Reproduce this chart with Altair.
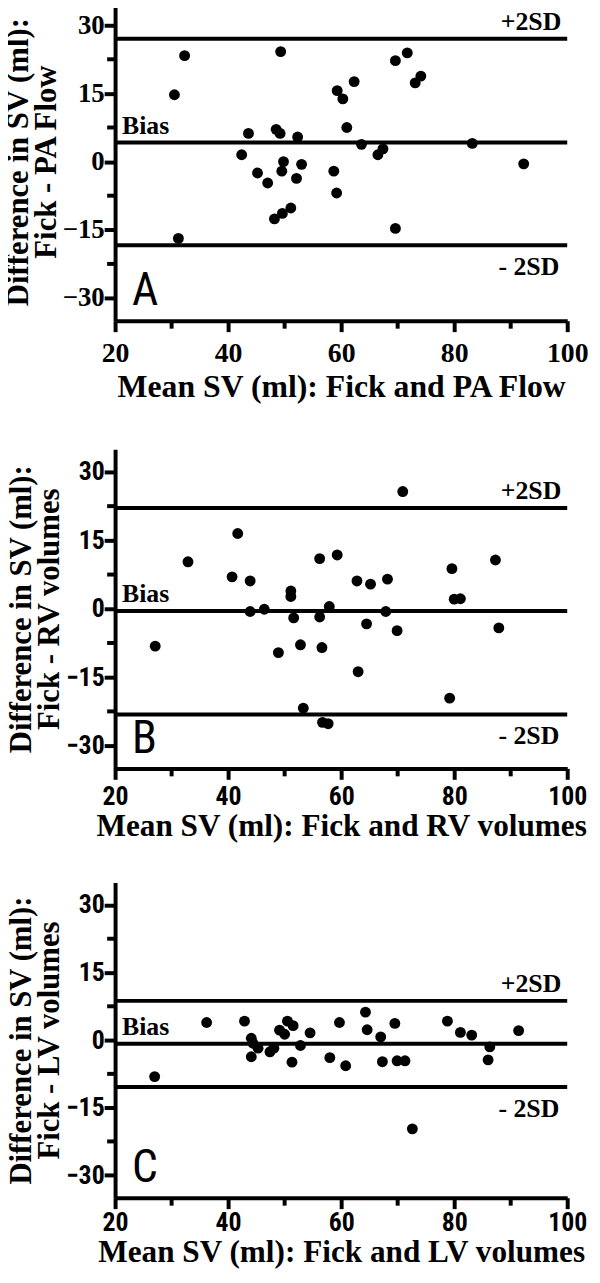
import altair as alt
import pandas as pd

# ---------------- data ----------------
# Panel A: Fick vs PA flow
a_mean = [30.5, 32.3, 31.2, 49.3, 42.4, 43.6, 45.2, 47.0, 48.5, 49.2, 49.8, 49.5,
          48.2, 49.6, 51.1, 52.1, 52.3, 53.0, 58.7, 59.2, 59.3, 60.3, 62.3, 61.0,
          63.6, 66.5, 67.4, 69.6, 71.7, 73.1, 74.1, 69.6, 83.2, 92.3]
a_diff = [14.7, 23.3, -16.9, 24.2, 1.5, 6.2, -2.5, -4.7, 7.1, 6.2, 0.0, -2.1,
          -12.6, -11.4, -10.2, -3.7, 5.4, -0.6, -2.1, -6.9, 15.6, 13.8, 17.6, 7.5,
          3.8, 1.5, 2.8, 22.2, 23.9, 17.3, 18.8, -14.7, 4.0, -0.5]
a_limits = [27.0, 4.2, -18.4]  # +2SD, bias, -2SD

# Panel B: Fick vs RV volumes
b_mean = [27.1, 32.9, 40.7, 41.7, 43.9, 43.9, 46.4, 48.9, 51.1, 51.1, 51.6, 52.8,
          53.3, 56.2, 56.2, 56.6, 56.7, 57.7, 57.9, 59.3, 62.8, 63.0, 64.5, 65.2,
          68.2, 67.9, 69.9, 70.9, 79.2, 79.6, 80.0, 81.1, 87.3, 87.9]
b_diff = [-8.2, 10.3, 7.0, 16.5, 6.1, -0.6, -0.1, -9.6, 3.9, 2.7, -2.0, -7.9,
          -21.8, 11.0, -1.8, -8.5, -24.9, -25.2, 0.5, 11.8, 6.1, -13.8, -3.3, 5.4,
          6.5, -0.6, -4.8, 25.7, -19.6, 8.8, 2.1, 2.2, 10.7, -4.2]
b_limits = [22.1, -0.5, -23.2]

# Panel C: Fick vs LV volumes
c_mean = [27.0, 36.2, 42.9, 44.1, 44.1, 44.4, 45.3, 47.4, 48.1, 49.1, 50.0, 50.5,
          51.5, 51.3, 52.8, 54.5, 58.0, 59.7, 60.8, 64.3, 64.6, 67.0, 67.3, 69.5,
          69.9, 71.3, 72.6, 78.8, 81.1, 83.1, 86.3, 86.0, 91.4]
c_diff = [-8.1, 3.9, 4.2, 0.4, -3.7, -0.7, -1.8, -2.6, -1.8, 2.2, 1.3, 4.2,
          3.2, -4.9, -1.2, 1.6, -3.9, 3.9, -5.7, 6.2, 2.3, 0.7, -4.8, 3.7,
          -4.6, -4.6, -19.7, 4.2, 1.7, 1.1, -1.5, -4.4, 2.1]
c_limits = [8.7, -0.8, -10.4]

limit_names = ["+2SD", "Bias", "- 2SD"]
x_major = [20, 40, 60, 80, 100]
x_minor = [30, 50, 70, 90]
y_major = [-30, -15, 0, 15, 30]
y_minor = [-22.5, -7.5, 7.5, 22.5]

y_title_1 = "Difference in SV (ml):"
y_titles_2 = ["Fick - PA Flow", "Fick - RV volumes", "Fick - LV volumes"]
x_titles = ["Mean SV (ml): Fick and PA Flow", "Mean SV (ml): Fick and RV volumes",
            "Mean SV (ml): Fick and LV volumes"]
letters = ["A", "B", "C"]

# ---------------- style ----------------
W = 456
SERIF = "Liberation Serif"
NARROW = "'Liberation Sans Narrow', 'Roboto Condensed', 'DejaVu Sans Condensed', sans-serif"
XDOM = [20, 100]
YDOM = [-35, 35]


def panel(mean, diff, limits, letter, ytitle2, xtitle, label_font, xlab_size,
          ylab_size, xlab_pad, xtitle_pad, xtitle_size, H):
    df = pd.DataFrame({"mean": mean, "diff": diff})
    lim = pd.DataFrame({"name": limit_names, "v": limits})

    x_axis = alt.Axis(values=x_major, tickSize=11, tickWidth=4, domainWidth=4,
                      domainColor="black", tickColor="black", grid=False,
                      labelFont=label_font, labelFontSize=xlab_size, labelFontWeight="bold",
                      labelColor="black", labelPadding=xlab_pad, labelFlush=False,
                      titleFont=SERIF, titleFontSize=xtitle_size, titleFontWeight="bold",
                      titleColor="black", titlePadding=xtitle_pad)
    y_axis = alt.Axis(values=y_major, tickSize=11, tickWidth=4, domainWidth=4,
                      domainColor="black", tickColor="black", grid=False,
                      labelFont=label_font, labelFontSize=ylab_size, labelFontWeight="bold",
                      labelColor="black", labelPadding=0, labelFlush=False,
                      titleFont=SERIF, titleFontSize=31, titleFontWeight="bold",
                      titleColor="black", titlePadding=0, titleLineHeight=28)
    ytitle = [y_title_1, ytitle2]

    def X(f):
        return alt.X(f, scale=alt.Scale(domain=XDOM, nice=False, zero=False),
                     axis=x_axis, title=xtitle)

    def Y(f):
        return alt.Y(f, scale=alt.Scale(domain=YDOM, nice=False, zero=False),
                     axis=y_axis, title=ytitle)

    pts = alt.Chart(df).mark_circle(size=120, color="black", opacity=1).encode(
        x=X("mean:Q"), y=Y("diff:Q"))
    rules = alt.Chart(lim).mark_rule(color="black", strokeWidth=4).encode(y=Y("v:Q"))
    upper = alt.Chart(lim[lim.name == "+2SD"]).mark_text(
        font=SERIF, fontSize=26, fontWeight="bold", color="black",
        align="right", baseline="alphabetic", dy=-9
    ).encode(x=alt.value(W - 6), y=Y("v:Q"), text="name:N")
    bias = alt.Chart(lim[lim.name == "Bias"]).mark_text(
        font=SERIF, fontSize=26, fontWeight="bold", color="black",
        align="left", baseline="alphabetic", dy=-9
    ).encode(x=alt.value(7), y=Y("v:Q"), text="name:N")
    lower = alt.Chart(lim[lim.name == "- 2SD"]).mark_text(
        font=SERIF, fontSize=26, fontWeight="bold", color="black",
        align="right", baseline="alphabetic", dy=30
    ).encode(x=alt.value(W - 8), y=Y("v:Q"), text="name:N")
    let = alt.Chart(pd.DataFrame({"t": [letter]})).mark_text(
        font=NARROW, fontSize=46, fontWeight="normal", color="black",
        align="left", baseline="alphabetic"
    ).encode(x=alt.value(17), y=alt.value(H - 16), text="t:N")
    ymin = alt.Chart(pd.DataFrame({"v": y_minor})).mark_rule(
        color="black", strokeWidth=4
    ).encode(y=Y("v:Q"), x=alt.value(-8), x2=alt.value(0))
    xmin = alt.Chart(pd.DataFrame({"v": x_minor})).mark_rule(
        color="black", strokeWidth=4
    ).encode(x=X("v:Q"), y=alt.value(H), y2=alt.value(H + 8))

    return alt.layer(pts, rules, upper, bias, lower, let, ymin, xmin).properties(
        width=W, height=H
    )


pA = panel(a_mean, a_diff, a_limits, letters[0], y_titles_2[0], x_titles[0], SERIF,
           28, 27, 8, 4, 32, 321)
pB = panel(b_mean, b_diff, b_limits, letters[1], y_titles_2[1], x_titles[1], NARROW,
           26, 26, 4, 2, 31.5, 322)
pC = panel(c_mean, c_diff, c_limits, letters[2], y_titles_2[2], x_titles[2], NARROW,
           26, 26, 1, 1, 31.5, 318)

top_pair = alt.vconcat(pA, pB, spacing=47.5)
chart = alt.vconcat(top_pair, pC, spacing=40.5).properties(
    padding={"top": -11, "left": -6, "right": 4, "bottom": 0}
).configure(background="white").configure_view(stroke=None)

chart.save("out.html", embed_options={"renderer": "svg", "actions": False})
